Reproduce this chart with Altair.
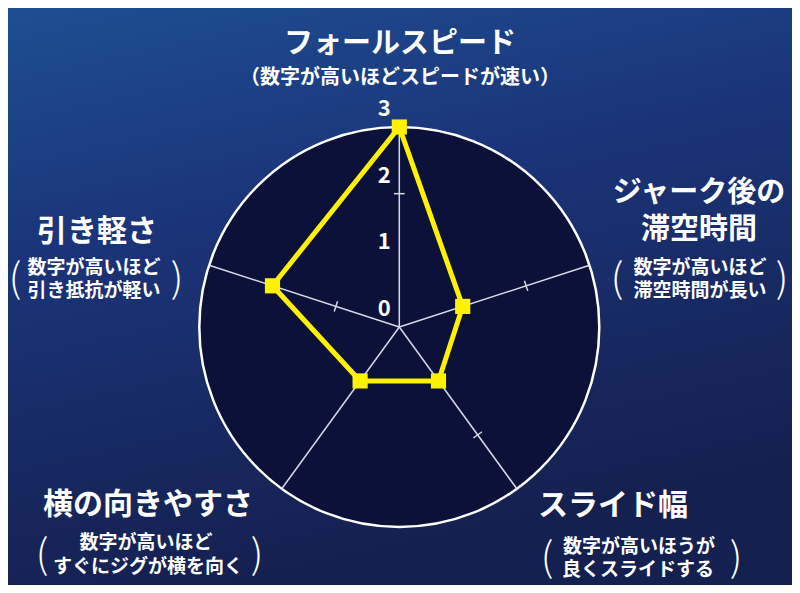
import altair as alt
import pandas as pd
import numpy as np

# ---- data ----
categories = ["フォールスピード", "ジャーク後の滞空時間", "スライド幅", "横の向きやすさ", "引き軽さ"]
values = [3, 1, 1, 1, 2]
tick_labels = [0, 1, 2, 3]
tick_axis = [0, 1, 2, 4]
tick_value = [2, 2, 2, 1]
vmax = 3

# ---- layout ----
W, H = 784, 577
PX = 200 / 3.0            # pixels per unit
CX, CY = 391.3, 319.0     # centre in view pixels
angles = np.deg2rad([90, 18, -54, -126, 162])
xdom = [-CX / PX, (W - CX) / PX]
ydom = [-(H - CY) / PX, CY / PX]
XS = alt.Scale(domain=xdom, nice=False, zero=False)
YS = alt.Scale(domain=ydom, nice=False, zero=False)
FONT = "Noto Sans CJK JP"


def X(f="x"):
    return alt.X(f"{f}:Q", scale=XS, axis=None)


def Y(f="y"):
    return alt.Y(f"{f}:Q", scale=YS, axis=None)


one = pd.DataFrame({"a": [0]})

bg = alt.Chart(one).mark_rect(
    color=alt.LinearGradient(
        gradient="linear", x1=0, x2=0.3, y1=0, y2=1,
        stops=[alt.GradientStop(color="#1e4e92", offset=0),
               alt.GradientStop(color="#1b3479", offset=0.4),
               alt.GradientStop(color="#14204f", offset=1)]),
).encode(x=alt.value(0), x2=alt.value(W), y=alt.value(0), y2=alt.value(H))

circ = alt.Chart(pd.DataFrame({"x": [0.0], "y": [0.0]})).mark_point(
    shape="circle", filled=True, fill="#0b1139", fillOpacity=1,
    stroke="white", strokeWidth=2.5, opacity=1,
    size=(2 * vmax * PX) ** 2,
).encode(x=X(), y=Y())

spk = pd.DataFrame({
    "x": [0.0] * 5, "y": [0.0] * 5,
    "x2": [vmax * np.cos(a) for a in angles],
    "y2": [vmax * np.sin(a) for a in angles],
})
spokes = alt.Chart(spk).mark_rule(color="#d6dae6", strokeWidth=1.5).encode(
    x=X(), y=Y(), x2="x2:Q", y2="y2:Q")

tk_rows = []
for ai, v in zip(tick_axis, tick_value):
    a = angles[ai]
    px, py = v * np.cos(a), v * np.sin(a)
    nx, ny = -np.sin(a), np.cos(a)
    h = 0.08
    tk_rows.append({"x": px - nx * h, "y": py - ny * h, "x2": px + nx * h, "y2": py + ny * h})
ticks = alt.Chart(pd.DataFrame(tk_rows)).mark_rule(color="#d6dae6", strokeWidth=1.5).encode(
    x=X(), y=Y(), x2="x2:Q", y2="y2:Q")

tl = alt.Chart(pd.DataFrame({"x": [0.0] * 4, "y": tick_labels,
                             "t": [str(t) for t in tick_labels]})).mark_text(
    font=FONT, fontSize=22, fontWeight="bold", color="white", dx=-15, dy=-18,
    align="center", baseline="middle").encode(x=X(), y=Y(), text="t:N")

poly_df = pd.DataFrame({
    "cat": categories + [categories[0]],
    "x": [v * np.cos(a) for v, a in zip(values, angles)] + [values[0] * np.cos(angles[0])],
    "y": [v * np.sin(a) for v, a in zip(values, angles)] + [values[0] * np.sin(angles[0])],
    "o": list(range(6)),
})
poly = alt.Chart(poly_df).mark_line(color="#fff200", strokeWidth=5, strokeJoin="miter").encode(
    x=X(), y=Y(), order="o:Q")
pts = alt.Chart(poly_df.iloc[:5]).mark_square(color="#fff200", size=230, opacity=1).encode(
    x=X(), y=Y())

# text labels: (text, screen x, screen y, size)
label_specs = [
    ("フォールスピード", 400, 44, 29),
    ("（数字が高いほどスピードが速い）", 400, 78, 20),
    ("引き軽さ", 97, 232, 30),
    ("数字が高いほど", 94, 268, 19),
    ("引き抵抗が軽い", 94, 291, 19),
    ("ジャーク後の", 699, 193, 29),
    ("滞空時間", 699, 230, 29),
    ("数字が高いほど", 700, 268, 19),
    ("滞空時間が長い", 700, 291, 19),
    ("横の向きやすさ", 148, 505, 30),
    ("数字が高いほど", 146, 543, 19),
    ("すぐにジグが横を向く", 148, 567, 19),
    ("スライド幅", 613, 506, 30),
    ("数字が高いほうが", 639, 547, 19),
    ("良くスライドする", 638, 570, 19),
]
paren_specs = [
    ("(", 15, 280), (")", 177, 280),
    ("(", 617, 280), (")", 782, 280),
    ("(", 42, 556), (")", 257, 556),
    ("(", 547, 559), (")", 736, 559),
]

layers = [bg, circ, spokes, ticks, tl, poly, pts]
for t, sx, sy, fs in label_specs:
    layers.append(alt.Chart(one).mark_text(
        text=t, font=FONT, fontSize=fs, fontWeight="bold", color="white",
        align="center", baseline="middle").encode(x=alt.value(sx - 8), y=alt.value(sy - 8)))
for t, sx, sy in paren_specs:
    layers.append(alt.Chart(one).mark_text(
        text=t, font=FONT, fontSize=40, fontWeight=300, color="white",
        align="center", baseline="middle").encode(x=alt.value(sx - 8), y=alt.value(sy - 8)))

chart = alt.layer(*layers).properties(
    width=W, height=H, padding=0, autosize=alt.AutoSizeParams(type="none"),
    background="#14204f",
).configure_view(stroke=None)

chart.save("out.html", embed_options={"renderer": "svg", "actions": False})
